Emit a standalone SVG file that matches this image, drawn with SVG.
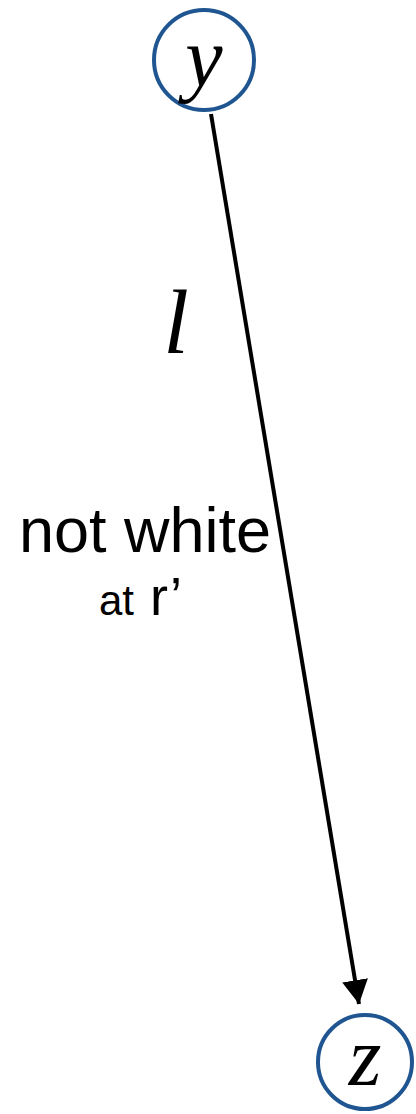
<svg xmlns="http://www.w3.org/2000/svg" width="416" height="1114" viewBox="0 0 416 1114">
<style>
.node{fill:#fff;stroke:#1f5590;stroke-width:4}
.math{font-family:"Liberation Serif",serif;font-style:italic;fill:#000}
.lbl{font-family:"Liberation Sans",Arial,sans-serif;fill:#000}
.edge{stroke:#000;stroke-width:4;fill:none}
</style>
<defs>
<marker id="arr" markerUnits="userSpaceOnUse" markerWidth="24" markerHeight="26" refX="24" refY="13" orient="auto">
<path d="M0,0 L24,13 L0,26 Z" fill="#000"/>
</marker>
</defs>
<g id="connectors">
<line class="edge" x1="211" y1="114" x2="359" y2="1004" marker-end="url(#arr)"/>
<text class="math" x="176" y="353" font-size="92" text-anchor="middle">l</text>
<text class="lbl" x="145" y="552" font-size="63" text-anchor="middle">not white</text>
<text class="lbl" x="99" y="615" font-size="42">at</text>
<text class="lbl" x="150" y="615" font-size="54">r’</text>
</g>
<g id="node-y">
<circle class="node" cx="204" cy="60" r="50"/>
<text class="math" x="204" y="86" font-size="84" text-anchor="middle">y</text>
</g>
<g id="node-z">
<circle class="node" cx="365" cy="1062" r="47"/>
<text class="math" x="365" y="1085" font-size="84" text-anchor="middle">z</text>
</g>
</svg>
